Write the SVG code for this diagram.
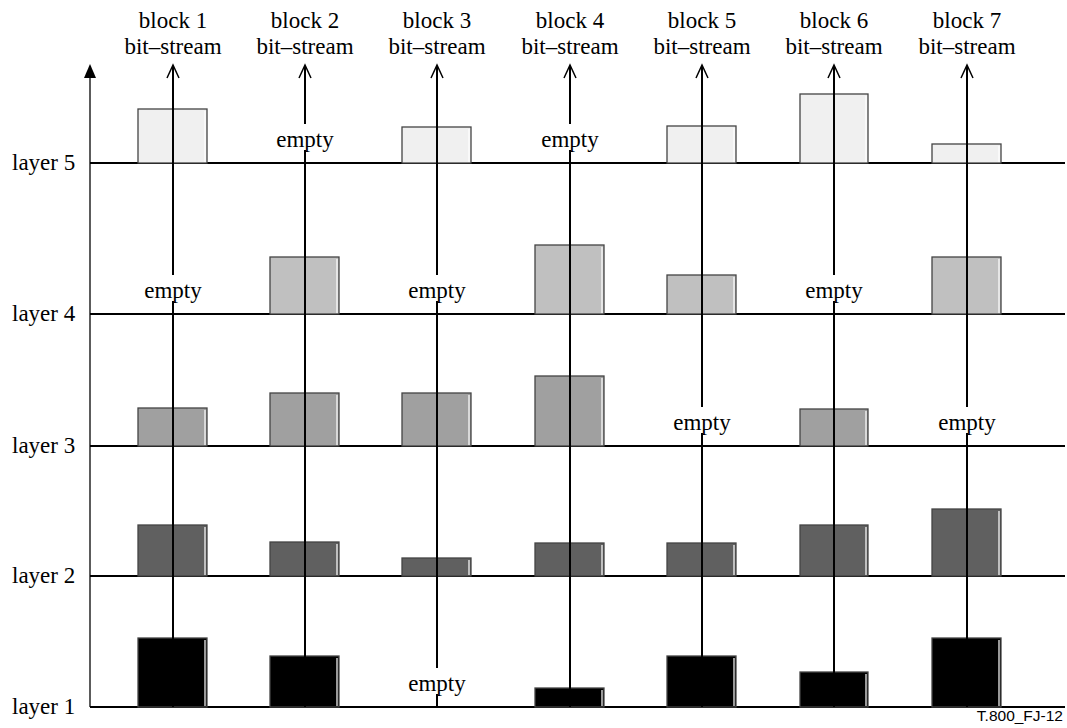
<svg xmlns="http://www.w3.org/2000/svg" width="1067" height="728" viewBox="0 0 1067 728">
<style>
text{font-family:"Liberation Serif","Times New Roman",serif;font-size:23px;fill:#000}
.c{text-anchor:middle}
.hl{stroke:#000;stroke-width:2}
.ax{stroke:#333;stroke-width:1.6}
.vl{stroke:#000;stroke-width:2;fill:none}
.ah{stroke:#000;stroke-width:1.5;fill:none}
.b{stroke:#444;stroke-width:1.3}
.sh{stroke:#fff;stroke-width:1.2;fill:none}
.l5{fill:#f0f0f0}.l4{fill:#c0c0c0}.l3{fill:#a0a0a0}.l2{fill:#606060}.l1{fill:#000}
.id{font-family:"Liberation Sans",Arial,sans-serif;font-size:15.5px}
</style>
<rect width="1067" height="728" fill="#fff"/>
<g id="axis">
<line class="ax" x1="90" y1="707" x2="90" y2="76"/>
<polygon points="90,64 84,78 96,78" fill="#000"/>
</g>
<g id="layers">
<line class="hl" x1="90" y1="163" x2="1065" y2="163"/>
<line class="hl" x1="90" y1="314" x2="1065" y2="314"/>
<line class="hl" x1="90" y1="446" x2="1065" y2="446"/>
<line class="hl" x1="90" y1="576" x2="1065" y2="576"/>
<line class="hl" x1="90" y1="707" x2="1065" y2="707"/>
<text x="12" y="170">layer 5</text>
<text x="12" y="321">layer 4</text>
<text x="12" y="453">layer 3</text>
<text x="12" y="583">layer 2</text>
<text x="12" y="714">layer 1</text>
</g>
<g id="block1">
<text class="c" x="173" y="28">block 1</text><text class="c" x="173" y="54">bit–stream</text>
<rect class="b l5" x="138" y="109" width="69" height="54"/>
<text class="c" x="173" y="298">empty</text>
<rect class="b l3" x="138" y="408" width="69" height="38"/>
<rect class="b l2" x="138" y="525" width="69" height="51"/>
<rect class="b l1" x="138" y="638" width="69" height="69"/>
<path class="sh" d="M205,111V162M205,410V445M205,527V575M205,640V706"/>
</g>
<g id="block2">
<text class="c" x="305" y="28">block 2</text><text class="c" x="305" y="54">bit–stream</text>
<text class="c" x="305" y="147">empty</text>
<rect class="b l4" x="270" y="257" width="69" height="57"/>
<rect class="b l3" x="270" y="393" width="69" height="53"/>
<rect class="b l2" x="270" y="542" width="69" height="34"/>
<rect class="b l1" x="270" y="656" width="69" height="51"/>
<path class="sh" d="M337,259V313M337,395V445M337,544V575M337,658V706"/>
</g>
<g id="block3">
<text class="c" x="437" y="28">block 3</text><text class="c" x="437" y="54">bit–stream</text>
<rect class="b l5" x="402" y="127" width="69" height="36"/>
<text class="c" x="437" y="298">empty</text>
<rect class="b l3" x="402" y="393" width="69" height="53"/>
<rect class="b l2" x="402" y="558" width="69" height="18"/>
<text class="c" x="437" y="691">empty</text>
<path class="sh" d="M469,129V162M469,395V445M469,560V575"/>
</g>
<g id="block4">
<text class="c" x="570" y="28">block 4</text><text class="c" x="570" y="54">bit–stream</text>
<text class="c" x="570" y="147">empty</text>
<rect class="b l4" x="535" y="245" width="69" height="69"/>
<rect class="b l3" x="535" y="376" width="69" height="70"/>
<rect class="b l2" x="535" y="543" width="69" height="33"/>
<rect class="b l1" x="535" y="688" width="69" height="19"/>
<path class="sh" d="M602,247V313M602,378V445M602,545V575M602,690V706"/>
</g>
<g id="block5">
<text class="c" x="702" y="28">block 5</text><text class="c" x="702" y="54">bit–stream</text>
<rect class="b l5" x="667" y="126" width="69" height="37"/>
<rect class="b l4" x="667" y="275" width="69" height="39"/>
<text class="c" x="702" y="430">empty</text>
<rect class="b l2" x="667" y="543" width="69" height="33"/>
<rect class="b l1" x="667" y="656" width="69" height="51"/>
<path class="sh" d="M734,128V162M734,277V313M734,545V575M734,658V706"/>
</g>
<g id="block6">
<text class="c" x="834" y="28">block 6</text><text class="c" x="834" y="54">bit–stream</text>
<rect class="b l5" x="800" y="94" width="68" height="69"/>
<text class="c" x="834" y="298">empty</text>
<rect class="b l3" x="800" y="409" width="68" height="37"/>
<rect class="b l2" x="800" y="525" width="68" height="51"/>
<rect class="b l1" x="800" y="672" width="68" height="35"/>
<path class="sh" d="M866,96V162M866,411V445M866,527V575M866,674V706"/>
</g>
<g id="block7">
<text class="c" x="967" y="28">block 7</text><text class="c" x="967" y="54">bit–stream</text>
<rect class="b l5" x="932" y="144" width="69" height="19"/>
<rect class="b l4" x="932" y="257" width="69" height="57"/>
<text class="c" x="967" y="430">empty</text>
<rect class="b l2" x="932" y="509" width="69" height="67"/>
<rect class="b l1" x="932" y="638" width="69" height="69"/>
<path class="sh" d="M999,146V162M999,259V313M999,511V575M999,640V706"/>
</g>
<g id="connectors">
<path class="vl" d="M173,707V301M173,275V66"/>
<path class="vl" d="M305,707V150M305,124V66"/>
<path class="vl" d="M437,707V694M437,668V301M437,275V66"/>
<path class="vl" d="M570,707V150M570,124V66"/>
<path class="vl" d="M702,707V433M702,407V66"/>
<path class="vl" d="M834,707V301M834,275V66"/>
<path class="vl" d="M967,707V433M967,407V66"/>
<path class="ah" d="M167,78L173,65L179,78M299,78L305,65L311,78M431,78L437,65L443,78M564,78L570,65L576,78M696,78L702,65L708,78M828,78L834,65L840,78M961,78L967,65L973,78"/>
</g>
<text class="id" x="1063" y="721" text-anchor="end">T.800_FJ-12</text>
</svg>
